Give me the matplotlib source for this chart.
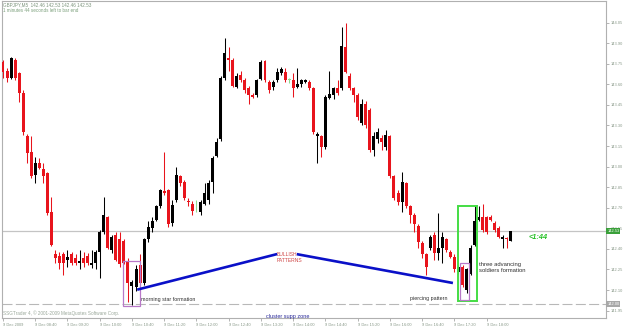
import numpy as np
import matplotlib.pyplot as plt
from matplotlib.patches import Rectangle
import matplotlib.transforms as mtransforms

# GBPJPY M5, 9 Dec 2009, bars from 08:00
opens = [
    143.76, 143.70, 143.65, 143.78, 143.68, 143.54, 143.22, 143.11, 142.94, 143.03,
    142.98, 142.95, 142.67, 142.36, 142.35, 142.36, 142.32, 142.36, 142.33, 142.30,
    142.33, 142.35, 142.28, 142.30, 142.38, 142.52, 142.63, 142.39, 142.50, 142.47,
    142.46, 142.31, 142.13, 142.12, 142.28, 142.15, 142.47, 142.55, 142.61, 142.71,
    142.82, 142.83, 142.59, 142.76, 142.93, 142.89, 142.75, 142.73, 142.71, 142.67,
    142.73, 142.76, 142.89, 143.08, 143.20, 143.65, 143.79, 143.78, 143.58, 143.67,
    143.63, 143.57, 143.52, 143.52, 143.64, 143.77, 143.62, 143.58, 143.63, 143.68,
    143.69, 143.63, 143.63, 143.58, 143.60, 143.62, 143.62, 143.57, 143.22, 143.22,
    143.14, 143.50, 143.52, 143.57, 143.57, 143.87, 143.66, 143.57, 143.52, 143.32,
    143.46, 143.41, 143.12, 143.20, 143.21, 143.14, 143.22, 142.93, 142.81, 142.74,
    142.88, 142.71, 142.65, 142.57, 142.44, 142.36, 142.41, 142.50, 142.37, 142.41,
    142.47, 142.38, 142.34, 142.23, 142.27, 142.10, 142.22, 142.43, 142.61, 142.63,
    142.63, 142.63, 142.59, 142.55, 142.47, 142.48, 142.46]
highs = [
    143.78, 143.72, 143.80, 143.79, 143.69, 143.56, 143.24, 143.22, 143.07, 143.06,
    143.03, 142.96, 142.78, 142.39, 142.38, 142.38, 142.39, 142.38, 142.36, 142.39,
    142.38, 142.37, 142.39, 142.39, 142.54, 142.78, 142.64, 142.50, 142.52, 142.52,
    142.47, 142.33, 142.17, 142.28, 142.36, 142.48, 142.60, 142.63, 142.72, 142.84,
    143.11, 142.84, 142.76, 143.00, 142.94, 142.90, 142.77, 142.75, 142.76, 142.76,
    142.88, 142.90, 143.08, 143.21, 143.66, 143.94, 143.87, 143.79, 143.68, 143.70,
    143.65, 143.59, 143.54, 143.64, 143.78, 143.78, 143.63, 143.63, 143.72, 143.73,
    143.72, 143.65, 143.68, 143.72, 143.64, 143.64, 143.63, 143.58, 143.25, 143.23,
    143.52, 143.70, 143.58, 143.63, 144.02, 144.05, 143.68, 143.58, 143.54, 143.49,
    143.48, 143.43, 143.25, 143.28, 143.23, 143.27, 143.23, 142.94, 142.83, 142.96,
    142.89, 142.72, 142.66, 142.58, 142.46, 142.37, 142.50, 142.52, 142.66, 142.52,
    142.48, 142.39, 142.36, 142.28, 142.28, 142.26, 142.43, 142.71, 142.71, 142.73,
    142.64, 142.65, 142.60, 142.57, 142.50, 142.49, 142.53]
lows = [
    143.65, 143.62, 143.64, 143.63, 143.47, 143.23, 143.03, 142.92, 142.88, 142.98,
    142.88, 142.65, 142.42, 142.30, 142.25, 142.21, 142.27, 142.28, 142.28, 142.25,
    142.27, 142.28, 142.26, 142.25, 142.19, 142.51, 142.40, 142.37, 142.31, 142.27,
    142.29, 142.01, 141.99, 142.09, 142.14, 142.14, 142.45, 142.52, 142.60, 142.70,
    142.79, 142.56, 142.57, 142.74, 142.86, 142.76, 142.71, 142.65, 142.67, 142.65,
    142.72, 142.73, 142.81, 143.07, 143.19, 143.63, 143.70, 143.58, 143.57, 143.62,
    143.54, 143.46, 143.50, 143.51, 143.63, 143.62, 143.54, 143.56, 143.62, 143.67,
    143.62, 143.61, 143.51, 143.57, 143.58, 143.61, 143.56, 143.24, 143.03, 143.07,
    143.13, 143.49, 143.49, 143.52, 143.56, 143.68, 143.56, 143.47, 143.34, 143.30,
    143.28, 143.11, 143.08, 143.17, 143.12, 143.12, 142.92, 142.76, 142.72, 142.67,
    142.70, 142.59, 142.52, 142.41, 142.33, 142.21, 142.39, 142.32, 142.32, 142.30,
    142.38, 142.33, 142.23, 142.22, 142.12, 142.08, 142.21, 142.42, 142.60, 142.52,
    142.51, 142.60, 142.52, 142.48, 142.41, 142.41, 142.46]
closes = [
    143.69, 143.65, 143.79, 143.65, 143.54, 143.25, 143.10, 142.93, 143.03, 142.99,
    142.93, 142.66, 142.43, 142.33, 142.30, 142.30, 142.34, 142.30, 142.30, 142.31,
    142.30, 142.30, 142.30, 142.38, 142.52, 142.65, 142.41, 142.49, 142.32, 142.29,
    142.30, 142.15, 142.16, 142.25, 142.15, 142.47, 142.56, 142.60, 142.71, 142.83,
    142.81, 142.58, 142.72, 142.94, 142.88, 142.77, 142.74, 142.68, 142.71, 142.74,
    142.81, 142.88, 143.06, 143.18, 143.65, 143.83, 143.78, 143.59, 143.66, 143.63,
    143.56, 143.52, 143.51, 143.63, 143.76, 143.63, 143.56, 143.62, 143.69, 143.71,
    143.63, 143.63, 143.57, 143.60, 143.63, 143.63, 143.57, 143.25, 143.24, 143.14,
    143.51, 143.53, 143.57, 143.54, 143.88, 143.69, 143.57, 143.52, 143.36, 143.46,
    143.30, 143.12, 143.22, 143.25, 143.18, 143.23, 142.93, 142.77, 142.74, 142.89,
    142.71, 142.65, 142.58, 142.45, 142.36, 142.27, 142.49, 142.37, 142.41, 142.49,
    142.39, 142.34, 142.25, 142.27, 142.14, 142.25, 142.41, 142.60, 142.63, 142.54,
    142.52, 142.61, 142.54, 142.49, 142.49, 142.47, 142.53]

time_ticks = [0, 8, 16, 24, 32, 40, 48, 56, 64, 72, 80, 88, 96, 104, 112, 120]
time_labels = ['9 Dec 2009', '9 Dec 08:40', '9 Dec 09:20', '9 Dec 10:00', '9 Dec 10:40',
               '9 Dec 11:20', '9 Dec 12:00', '9 Dec 12:40', '9 Dec 13:20', '9 Dec 14:00',
               '9 Dec 14:40', '9 Dec 15:20', '9 Dec 16:00', '9 Dec 16:40', '9 Dec 17:20',
               '9 Dec 18:00']
price_ticks = [141.95, 142.10, 142.25, 142.40, 142.55, 142.70, 142.85, 143.00,
               143.15, 143.30, 143.45, 143.60, 143.75, 143.90, 144.05]
support_level = 142.00

plt.rcParams['font.family'] = ['Liberation Sans', 'DejaVu Sans']

W, H = 625, 327
fig = plt.figure(figsize=(W / 100, H / 100), dpi=100)
ax = fig.add_axes([2 / W, 9 / H, 604 / W, 317 / H])

o = np.array(opens)
c = np.array(closes)
x = np.arange(len(o))
cols = np.where(c > o, '#000000', np.where(c < o, '#e8141c', '#8fdc8f'))

ax.vlines(x, lows, highs, colors=cols, lw=0.75, zorder=3)
ax.bar(x, np.maximum(np.abs(c - o), 0.006), bottom=np.minimum(o, c), width=0.74,
       color=cols, lw=0, zorder=4)

# bid line and support line
ax.axhline(c[-1], color='#c4c4c4', lw=0.9, zorder=1)
ax.axhline(support_level, color='#b8b8b8', lw=0.8, dashes=(9, 3), zorder=1)

# pattern boxes
ax.add_patch(Rectangle((29.8, 141.98), 4.2, 0.33, fill=False, ec='#b878c8', lw=0.9, zorder=5))
ax.add_patch(Rectangle((113.33, 142.03), 2.32, 0.265, fill=False, ec='#b878c8', lw=0.9, zorder=6))
ax.add_patch(Rectangle((112.9, 142.02), 4.8, 0.69, fill=False, ec='#44dd44', lw=1.4, zorder=5))

# trend lines
ax.plot([33.6, 67.7], [142.105, 142.36], color='#0a10c8', lw=1.9, zorder=5)
ax.plot([73.2, 111.3], [142.36, 142.153], color='#0a10c8', lw=1.9, zorder=5)

ax.text(68.0, 142.337, 'BULLISH\nPATTERNS', color='#d04848', fontsize=3.6,
        va='center', ha='left', linespacing=1.4)
ax.text(34.2, 142.03, 'morning star formation', color='#303030', fontsize=3.9,
        va='center', ha='left')
ax.text(101.0, 142.04, 'piercing pattern', color='#303030', fontsize=3.9,
        va='center', ha='left')
ax.text(118.1, 142.264, 'three advancing\nsoldiers formation', color='#303030',
        fontsize=4.2, va='center', ha='left', linespacing=1.3)
ax.text(65.3, 141.905, 'cluster supp zone', color='#2a2a9a', fontsize=4.0,
        va='center', ha='left')
ax.text(130.3, 142.48, '<1:44', color='#22c022', fontsize=5.3, fontweight='bold',
        fontstyle='italic', va='center', ha='left')

ax.set_xlim(-0.25, 149.6)
ax.set_ylim(141.896, 144.208)

ax.yaxis.tick_right()
ax.set_yticks(price_ticks)
ax.set_yticklabels(['%.2f' % p for p in price_ticks])
ax.set_xticks(time_ticks)
ax.set_xticklabels(time_labels, ha='left')
ax.tick_params(axis='both', colors='#a8a8a8', labelcolor='#8a9a8a', labelsize=2.9,
               length=2, width=0.6, pad=1.5)

# price boxes on the right scale
trans = mtransforms.blended_transform_factory(ax.transAxes, ax.transData)
ax.text(1.002, c[-1], '%.2f' % c[-1], transform=trans, fontsize=2.9, color='white',
        va='center', ha='left', clip_on=False,
        bbox=dict(boxstyle='square,pad=0.25', fc='#3aa03a', ec='none'))
ax.text(1.002, support_level, '%.2f' % support_level, transform=trans, fontsize=2.9,
        color='white', va='center', ha='left', clip_on=False,
        bbox=dict(boxstyle='square,pad=0.25', fc='#a8a8a8', ec='none'))

for s in ax.spines.values():
    s.set_color('#b0b0b0')
    s.set_linewidth(0.8)

fig.text(3 / W, 1 - 5 / H, 'GBPJPY,M5  142.46 142.53 142.46 142.53', color='#7c947c',
         fontsize=3.3, va='center', ha='left')
fig.text(3 / W, 1 - 11 / H, '1 minutes 44 seconds left to bar end', color='#7ca07c',
         fontsize=3.3, va='center', ha='left')
fig.text(3 / W, 1 - 313 / H, 'SSGTrader 4, \u00a9 2001-2009 MetaQuotes Software Corp.',
         color='#9aa89a', fontsize=3.3, va='center', ha='left')

fig.savefig('out.png', dpi=100)
